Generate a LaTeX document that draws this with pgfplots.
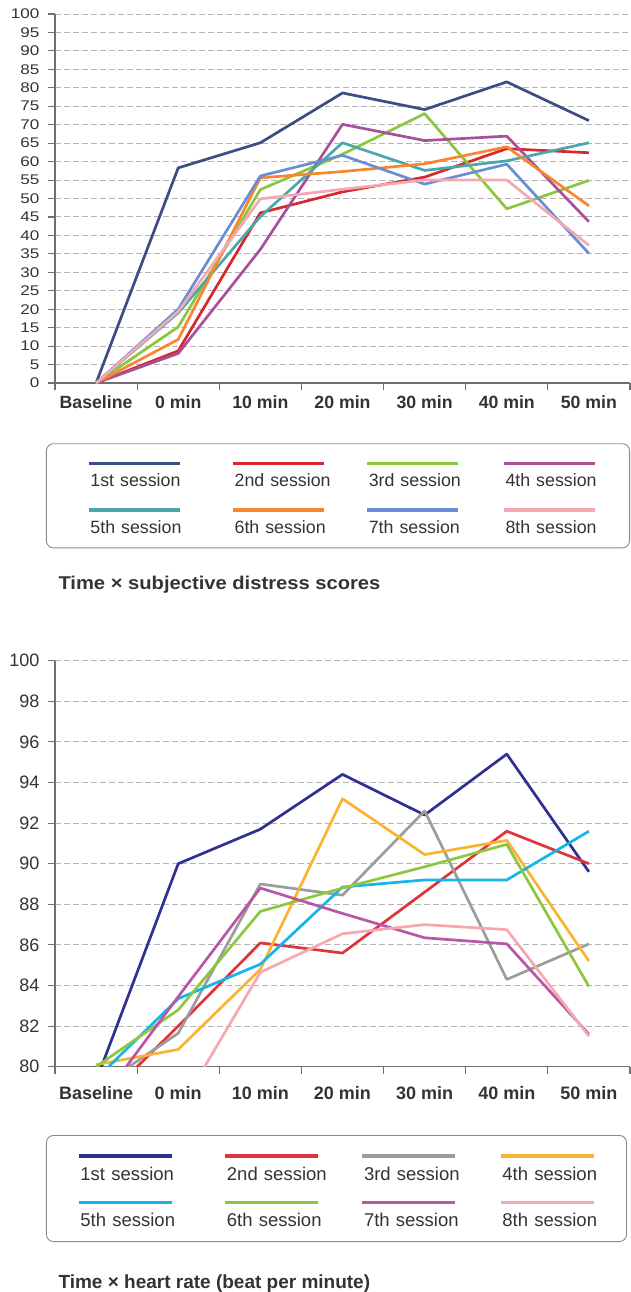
\documentclass[border=0pt]{standalone}
\usepackage{fontspec}
\setmainfont{Liberation Sans}
\newfontfamily\titlefont{Liberation Sans}[FakeStretch=1.09]
\usepackage{graphicx}
\usepackage{pgfplots}
\pgfplotsset{compat=1.18}

% top chart colours
\definecolor{tA}{HTML}{3D4C84}
\definecolor{tB}{HTML}{D9272E}
\definecolor{tC}{HTML}{8CC63E}
\definecolor{tD}{HTML}{A8509C}
\definecolor{tE}{HTML}{4AA8AA}
\definecolor{tF}{HTML}{F7862F}
\definecolor{tG}{HTML}{6B8ED2}
\definecolor{tH}{HTML}{F5A8B2}
% bottom chart colours
\definecolor{bA}{HTML}{2E3192}
\definecolor{bB}{HTML}{E0333A}
\definecolor{bC}{HTML}{9C9C9C}
\definecolor{bD}{HTML}{FBB430}
\definecolor{bE}{HTML}{13B5EA}
\definecolor{bF}{HTML}{8DC63F}
\definecolor{bG}{HTML}{B957A6}
\definecolor{bH}{HTML}{F5A9AE}

\definecolor{axisgray}{HTML}{707070}
\definecolor{gridgray}{HTML}{B4B4B4}
\definecolor{boxgray}{HTML}{8A8A8A}
\definecolor{textgray}{HTML}{333333}

\pgfplotsset{
  session chart/.style={
    scale only axis, width=575pt,
    xmin=-0.5, xmax=6.5,
    axis lines=left,
    axis line style={-, draw=axisgray, line width=1.1pt},
    xtick={-0.5,0.5,1.5,2.5,3.5,4.5,5.5,6.5},
    x tick label as interval,
    xticklabels={Baseline,0 min,10 min,20 min,30 min,40 min,50 min},
    tick align=outside, major tick length=7pt,
    every tick/.style={draw=axisgray, line width=1.1pt},
    ymajorgrids,
    grid style={draw=gridgray, line width=1pt, dash pattern=on 6pt off 3pt},
    /pgf/number format/assume math mode=true,
    every axis plot/.append style={line width=2.7pt, line join=round, mark=none},
    legend columns=4,
  },
}

\begin{document}
\begin{tikzpicture}[x=1pt,y=1pt]
\useasboundingbox (0pt,0pt) rectangle (630pt,-1292pt);

% ---------- subjective distress ----------
\begin{axis}[session chart,
  name=top, at={(55pt,-383pt)}, anchor=south west, height=369pt,
  ymin=0, ymax=100, ytick={0,5,...,100},
  yticklabel={\scalebox{1.22}[1]{\pgfmathprintnumber{\tick}}},
  yticklabel style={font=\fontsize{14}{16}\selectfont, text=textgray, xshift=-5pt},
  xticklabel style={font=\bfseries\fontsize{17.7}{20}\selectfont, text=textgray, yshift=-2pt},
  legend image code/.code={
    \path (-17pt,0pt) (91pt,28.3pt);
    \draw[#1, line width=3.3pt] (0pt,23pt) -- (91pt,23pt);
  },
  legend style={
    at={(-0.01565,-0.1634)}, anchor=north west,
    draw=boxgray, line width=0.9pt, rounded corners=7pt, fill=none,
    inner xsep=24pt, inner ysep=13.4pt,
    font=\fontsize{17.8}{20}\selectfont, text=textgray,
    nodes={inner sep=0pt, text depth=0pt, text height=13pt, text width=100pt, align=left},
    cells={anchor=base west},
    row sep=15.3pt,
    /tikz/every odd column/.append style={column sep=-91pt},
    /tikz/column 2/.append style={column sep=24.2pt},
    /tikz/column 4/.append style={column sep=14.2pt},
    /tikz/column 6/.append style={column sep=16.7pt},
  },
]
\addplot[tA] coordinates {(0,0) (1,58.3) (2,65.1) (3,78.6) (4,74.1) (5,81.6) (6,71.1)};
\addplot[tB] coordinates {(0,0) (1,8.7) (2,46.1) (3,51.8) (4,55.8) (5,63.5) (6,62.4)};
\addplot[tC] coordinates {(0,0) (1,15.2) (2,52.4) (3,62.0) (4,73.0) (5,47.2) (6,54.9)};
\addplot[tD] coordinates {(0,0) (1,8.0) (2,36.2) (3,70.1) (4,65.7) (5,66.9) (6,43.7)};
\addplot[tE] coordinates {(0,0) (1,19.0) (2,45.1) (3,65.1) (4,57.6) (5,60.2) (6,65.1)};
\addplot[tF] coordinates {(0,0) (1,11.8) (2,55.6) (3,57.3) (4,59.4) (5,64.0) (6,48.0)};
\addplot[tG] coordinates {(0,0) (1,20.0) (2,56.1) (3,61.7) (4,53.9) (5,59.3) (6,35.1)};
\addplot[tH] coordinates {(0,0) (1,19.4) (2,49.9) (3,52.5) (4,55.0) (5,55.0) (6,37.3)};
\legend{1st session,2nd session,3rd session,4th session,5th session,6th session,7th session,8th session}
\end{axis}

\node[anchor=base west, inner sep=0pt, text=textgray,
  font=\titlefont\bfseries\fontsize{18.5}{20}\selectfont] at (58.3pt,-589.3pt)
  {Time × subjective distress scores};

% ---------- heart rate ----------
\begin{axis}[session chart,
  name=bottom, at={(55pt,-1066.7pt)}, anchor=south west, height=406pt,
  ymin=80, ymax=100, ytick={80,82,...,100},
  yticklabel style={font=\fontsize{18}{20}\selectfont, text=textgray, xshift=-5pt},
  xticklabel style={font=\bfseries\fontsize{18}{20}\selectfont, text=textgray, yshift=-9pt},
  legend image code/.code={
    \path (-7pt,0pt) (93pt,29.9pt);
    \draw[#1, line width=3.3pt] (0pt,24pt) -- (93pt,24pt);
  },
  legend style={
    at={(-0.01565,-0.1682)}, anchor=north west,
    draw=boxgray, line width=0.9pt, rounded corners=7pt, fill=none,
    inner xsep=24pt, inner ysep=13.4pt,
    font=\fontsize{18.5}{20}\selectfont, text=textgray,
    nodes={inner sep=0pt, text depth=0pt, text height=13pt, text width=100pt, align=left},
    cells={anchor=base west},
    row sep=14.1pt,
    /tikz/every odd column/.append style={column sep=-93pt},
    /tikz/column 2/.append style={column sep=36.5pt},
    /tikz/column 4/.append style={column sep=27.1pt},
    /tikz/column 6/.append style={column sep=28.4pt},
  },
]
\addplot[bA] coordinates {(0,79.3) (1,90.0) (2,91.7) (3,94.4) (4,92.4) (5,95.4) (6,89.6)};
\addplot[bB] coordinates {(0,78.0) (1,82.0) (2,86.1) (3,85.6) (4,88.6) (5,91.6) (6,90.0)};
\addplot[bC] coordinates {(0,78.9) (1,81.65) (2,89.0) (3,88.45) (4,92.6) (5,84.3) (6,86.05)};
\addplot[bD] coordinates {(0,80.1) (1,80.85) (2,84.8) (3,93.2) (4,90.45) (5,91.15) (6,85.2)};
\addplot[bE] coordinates {(0,79.4) (1,83.35) (2,85.05) (3,88.85) (4,89.2) (5,89.2) (6,91.6)};
\addplot[bF] coordinates {(0,80.0) (1,82.8) (2,87.65) (3,88.8) (4,89.85) (5,90.95) (6,83.95)};
\addplot[bG] coordinates {(0,78.0) (1,83.45) (2,88.8) (3,87.55) (4,86.35) (5,86.05) (6,81.6)};
\addplot[bH] coordinates {(0,77.5) (1,77.8) (2,84.65) (3,86.55) (4,87.0) (5,86.75) (6,81.5)};
\legend{1st session,2nd session,3rd session,4th session,5th session,6th session,7th session,8th session}
\end{axis}

\node[anchor=base west, inner sep=0pt, text=textgray,
  font=\bfseries\fontsize{19}{21}\selectfont] at (58.3pt,-1288.3pt)
  {Time × heart rate (beat per minute)};
\end{tikzpicture}
\end{document}
